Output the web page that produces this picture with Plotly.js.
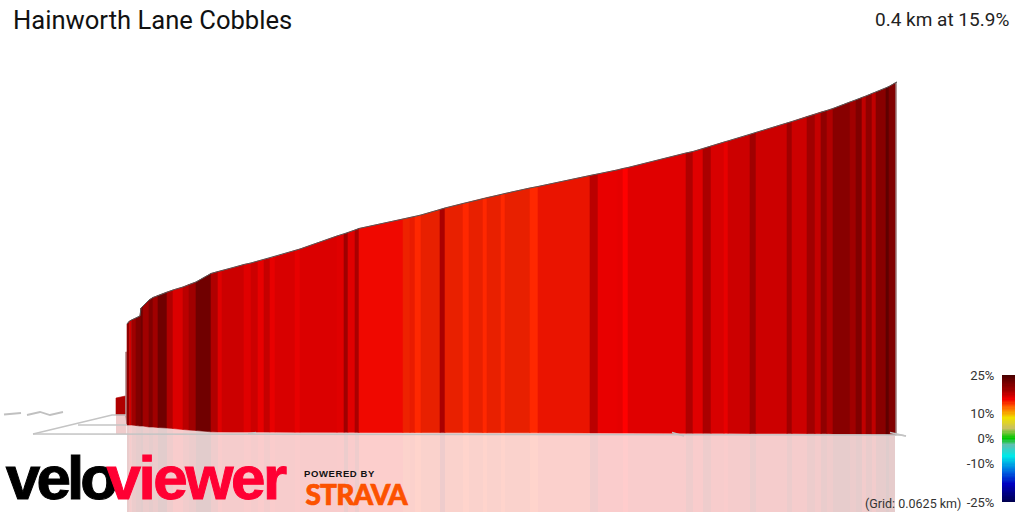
<!DOCTYPE html>
<html><head><meta charset="utf-8">
<script src="https://cdn.plot.ly/plotly-3.0.1.min.js"></script>
<style>html,body{margin:0;padding:0;background:#fff}#c{width:1024px;height:512px}</style></head>
<body><div id="c"></div>
<script>
const routeName = "Hainworth Lane Cobbles";
const climbSummary = "0.4 km at 15.9%";
const gridNote = "(Grid: 0.0625 km)";
const legendTicks = [25, 10, 0, -10, -25];

const edgeX = [127,129.5,131.5,136,140,141,143,149,153,158,167,173,183,189,196,211,218,222,232,244,251,258,264,270,275,295,300,337,344,348,355,359,403,410,415,421,440,445,463,469,483,487,501,505,530,538,590,598,617,623,628,686,693,703,711,724,728,750,756,787,792,807,815,821,827,833,850,856,862,866,872,876,886,889,895];
const edgeTop = [324,321,320,318,316,308,306,300,297.5,295.5,292,290,287,284.5,282,273.5,271.5,270.5,268,264.5,263,261,259.5,258,256.5,250.5,249,236,234,232.5,230,228.5,219,217.5,216.5,215,209.5,208,203.5,202,198.5,197.5,194.5,193.5,188,186.5,175.5,174,170,168.5,167.5,153,151.5,148.5,146,142,141,134.5,132.5,123,121.5,116.5,114,112,110.5,108.5,102,100,97.5,96,93.5,92,88,86.5,83];
const edgeBase = [425,425,425,425.5,426,426,426,427,427,427.5,428,428.5,429.5,430,430.5,431.8,431.9,431.9,432,432,432,432,432,432.1,432.1,432.2,432.2,432.3,432.3,432.3,432.3,432.4,432.5,432.5,432.5,432.5,432.6,432.6,432.6,432.6,432.7,432.7,432.7,432.7,432.8,432.8,432.9,432.9,433,433,433,433.2,433.2,433.2,433.3,433.3,433.3,433.5,433.5,433.6,433.6,433.7,433.8,433.8,433.8,433.9,434,434,434.1,434.1,434.2,434.2,434.3,434.4,434.5];
const segmentGrade = [20,17.3,19,22,22,23,19,22,19,23,18.5,16.8,18.2,19,23,18.5,16.5,17.5,17.5,16.5,17.5,16,17.8,16,17,16,16.8,16.5,19,16.5,18.7,15,13.9,14.2,13.6,14,18.7,14,13.6,14,13.6,14,13.6,14,13.6,14.5,18.2,16,16.2,15.5,16.5,18.5,16.5,18.7,17,16,17.5,19,17.5,19,17.5,19,17.8,20,18.5,21,19,22,18,20,18,21,24,22];

const startX = [116,125.5];
const startTop = [398,396];
const startBase = [415,415];
const startGrade = 18.5;

const floorLineA = {x:[33,112,126], y:[434,415,415]};
const floorLineB = {x:[78,127], y:[425,425]};
const floorLineC = {x:[33,900,906], y:[434,435,436]};
const floorTickA = {x:[248,256], y:[434,432.5]};
const floorTickB = {x:[672,684], y:[432.5,436]};
const floorTickC = {x:[890,906], y:[432.5,436]};
const trackA = {x:[4,21], y:[414.5,413]};
const trackB = {x:[27,40,50,63], y:[415,412,415,412]};

const shadeGrades  = [13.6,14,14.5,15,15.5,16,16.5,17,17.5,18,18.5,19,20,21,22,23,24,25];
const shadeColours = ['#ff2800','#e82000','#ea1400','#f00800','#ff0000','#e80000','#e00000','#d80000','#cc0000','#c00000','#b00000','#a00000','#900000','#880000','#800000','#700000','#600000','#4d0000'];
const legendGrades  = [-25,-18,-13.5,-7,-2.5,0,4,8,12.5,15.5,19,25];
const legendColours = ['#000050','#0000c0','#0060e0','#00e8e8','#60c0b0','#00c800','#c8c060','#f0e000','#ff6000','#f00000','#a00000','#4a0000'];

function hex(c){return [1,3,5].map(i=>parseInt(c.substr(i,2),16));}
function shade(g){
  if(g<=shadeGrades[0]) return shadeColours[0];
  for(let i=1;i<shadeGrades.length;i++){
    if(g<=shadeGrades[i]){
      const t=(g-shadeGrades[i-1])/(shadeGrades[i]-shadeGrades[i-1]);
      const a=hex(shadeColours[i-1]),b=hex(shadeColours[i]);
      return 'rgb('+a.map((v,k)=>Math.round(v+(b[k]-v)*t)).join(',')+')';
    }
  }
  return shadeColours[shadeColours.length-1];
}
function poly(x0,x1,y0,y1,y2,y3,col,op){
  return {type:'scatter',mode:'lines',x:[x0,x1,x1,x0,x0],y:[y0,y1,y2,y3,y0],fill:'toself',fillcolor:col,
    line:{color:col,width:op<1?0:0.6},opacity:op,hoverinfo:'skip'};
}
const traces=[];
// mirror image on the floor
for(let i=0;i<segmentGrade.length;i++){
  traces.push(poly(edgeX[i],edgeX[i+1],edgeBase[i],edgeBase[i+1],512,512,shade(segmentGrade[i]),0.2));
}
traces.push(poly(startX[0],startX[1]+1,startBase[0],startBase[1],434,434,shade(startGrade),0.2));
// wall
traces.push(poly(startX[0],startX[1],startTop[0],startTop[1],startBase[1],startBase[0],shade(startGrade),1));
traces.push(poly(125.5,127,352,352,425,415,'#b08888',1));
traces.push(poly(895,896.5,83,82,435,435,'#a08080',1));
for(let i=0;i<segmentGrade.length;i++){
  traces.push(poly(edgeX[i],edgeX[i+1],edgeTop[i],edgeTop[i+1],edgeBase[i+1],edgeBase[i],shade(segmentGrade[i]),1));
}
traces.push({type:'scatter',mode:'lines',x:edgeX.concat([897]),y:edgeTop.concat([82]),line:{color:'#555555',width:1},hoverinfo:'skip'});
[floorLineA,floorLineB,floorLineC,floorTickA,floorTickB,floorTickC].forEach(l=>traces.push({type:'scatter',mode:'lines',x:l.x,y:l.y,line:{color:'#c4c4c4',width:1.4},hoverinfo:'skip'}));
[trackA,trackB].forEach(l=>traces.push({type:'scatter',mode:'lines',x:l.x,y:l.y,line:{color:'#c0c0c0',width:1.8},hoverinfo:'skip'}));

// gradient key
const keyY=[],keyZ=[];
for(let g=-25;g<=25;g+=0.5){keyY.push(g);keyZ.push([g]);}
const lo=legendGrades[0],hi=legendGrades[legendGrades.length-1];
traces.push({type:'heatmap',xaxis:'x2',yaxis:'y2',x:[0],y:keyY,z:keyZ,zmin:lo,zmax:hi,showscale:false,hoverinfo:'skip',
  colorscale:legendGrades.map((g,i)=>[(g-lo)/(hi-lo),legendColours[i]])});

const ann=(text,x,y,size,color,family,weight)=>({text,x,y,xref:'x',yref:'y',showarrow:false,xanchor:'center',yanchor:'middle',
  font:{family:family||'Liberation Sans',size,color,weight:weight||700}});
const layout={
  width:1024,height:512,margin:{l:0,r:0,t:0,b:0},paper_bgcolor:'#fff',plot_bgcolor:'rgba(0,0,0,0)',showlegend:false,
  title:{text:routeName,x:13/1024,xanchor:'left',xref:'paper',y:1-20/512,yanchor:'middle',font:{family:'Roboto',size:25.6,color:'#111'}},
  xaxis:{range:[0,1024],visible:false,fixedrange:true,domain:[0,1]},
  yaxis:{range:[512,0],visible:false,fixedrange:true,domain:[0,1]},
  xaxis2:{domain:[1002/1024,1015/1024],anchor:'y2',visible:false,range:[-0.5,0.5]},
  yaxis2:{domain:[10/512,137/512],anchor:'x2',range:[-25,25],side:'left',tickmode:'array',tickvals:legendTicks,ticktext:legendTicks.map(v=>v+'%'),
    ticks:'outside',ticklen:4,tickcolor:'rgba(0,0,0,0)',showgrid:false,zeroline:false,showline:false,tickfont:{family:'Roboto',size:13,color:'#333'}},
  annotations:[
    {text:climbSummary,x:1011,y:19,xref:'x',yref:'y',showarrow:false,xanchor:'right',yanchor:'middle',font:{family:'Roboto',size:19,color:'#222'}},
    {text:gridNote,x:963,y:503,xref:'x',yref:'y',showarrow:false,xanchor:'right',yanchor:'middle',font:{family:'Roboto',size:12.5,color:'#333'}},
    ann('velo',60,477,62,'#000000'),
    ann('viewer',195.5,477,62,'#ff0033'),
    ann('POWERED BY',340,473.5,9.5,'#111111'),
    ann('STRAVA',356.5,494,28,'#fc5200','Lato',900)
  ]
};
Plotly.newPlot('c',traces,layout,{staticPlot:true,displayModeBar:false}).then(()=>{
  const sp={'velo':['-3.9px','1px'],'viewer':['-2.5px','1px'],'POWERED BY':['0.6px','0'],'STRAVA':['-0.8px','0.7px']};
  document.querySelectorAll('.annotation-text').forEach(t=>{
    const s=sp[t.textContent];
    if(s){t.style.letterSpacing=s[0];t.style.stroke=t.style.fill;t.style.strokeWidth=s[1];}
  });
});
</script></body></html>
